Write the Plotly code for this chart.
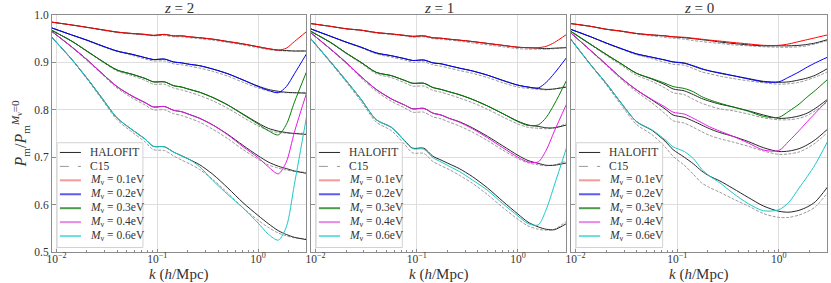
import plotly.graph_objects as go

# ---------------- data ----------------
K = [0.0089, 0.0141, 0.0200, 0.0282, 0.0398, 0.0562, 0.0759, 0.0912, 0.1175, 0.1445, 0.1738,
     0.2089, 0.2630, 0.3548, 0.5012, 0.7079, 1.000, 1.259, 1.585, 1.905, 2.291, 3.020]

REDSHIFT_LABELS = ["2", "1", "0"]
MNU_LABELS = ["0.1", "0.2", "0.3", "0.4", "0.6"]
X_TICK_VALUES = [0.01, 0.1, 1]
X_TICK_TEXT = ["10<sup>−2</sup>", "10<sup>−1</sup>", "10<sup>0</sup>"]
X_MINOR_VALUES = [0.02, 0.03, 0.04, 0.05, 0.06, 0.07, 0.08, 0.09,
                  0.2, 0.3, 0.4, 0.5, 0.6, 0.7, 0.8, 0.9, 2, 3]
Y_TICK_VALUES = [0.5, 0.6, 0.7, 0.8, 0.9, 1.0]
Y_TICK_TEXT = ["0.5", "0.6", "0.7", "0.8", "0.9", "1.0"]

# z = 2
Z2_SIM_01 = [0.985, 0.979, 0.974, 0.969, 0.964, 0.961, 0.959, 0.957, 0.959, 0.956, 0.956, 0.954, 0.952, 0.949, 0.944, 0.939, 0.933, 0.929, 0.926, 0.930, 0.944, 0.965]
Z2_HALO_01 = [0.985, 0.979, 0.974, 0.969, 0.964, 0.961, 0.959, 0.957, 0.959, 0.956, 0.956, 0.954, 0.952, 0.949, 0.944, 0.939, 0.933, 0.929, 0.926, 0.925, 0.924, 0.924]
Z2_C15_01 = [0.985, 0.979, 0.974, 0.968, 0.963, 0.960, 0.958, 0.956, 0.957, 0.954, 0.954, 0.952, 0.950, 0.947, 0.942, 0.937, 0.931, 0.927, 0.925, 0.924, 0.924, 0.925]
Z2_SIM_02 = [0.973, 0.958, 0.947, 0.935, 0.924, 0.917, 0.910, 0.906, 0.907, 0.901, 0.899, 0.896, 0.893, 0.886, 0.876, 0.863, 0.849, 0.841, 0.836, 0.849, 0.876, 0.918]
Z2_HALO_02 = [0.973, 0.958, 0.947, 0.935, 0.924, 0.917, 0.910, 0.906, 0.907, 0.901, 0.899, 0.896, 0.893, 0.886, 0.876, 0.863, 0.850, 0.843, 0.839, 0.837, 0.836, 0.835]
Z2_C15_02 = [0.973, 0.958, 0.946, 0.934, 0.923, 0.915, 0.907, 0.903, 0.903, 0.897, 0.895, 0.892, 0.888, 0.881, 0.871, 0.858, 0.846, 0.840, 0.837, 0.836, 0.836, 0.837]
Z2_SIM_03 = [0.968, 0.945, 0.924, 0.903, 0.884, 0.875, 0.866, 0.859, 0.859, 0.851, 0.848, 0.843, 0.837, 0.826, 0.810, 0.790, 0.770, 0.756, 0.747, 0.769, 0.816, 0.880]
Z2_HALO_03 = [0.968, 0.945, 0.924, 0.903, 0.884, 0.875, 0.866, 0.859, 0.859, 0.851, 0.848, 0.843, 0.837, 0.826, 0.810, 0.791, 0.772, 0.761, 0.755, 0.752, 0.750, 0.748]
Z2_C15_03 = [0.968, 0.945, 0.923, 0.902, 0.882, 0.872, 0.862, 0.854, 0.854, 0.846, 0.842, 0.837, 0.830, 0.819, 0.803, 0.784, 0.766, 0.757, 0.752, 0.751, 0.750, 0.751]
Z2_SIM_04 = [0.966, 0.933, 0.906, 0.877, 0.849, 0.829, 0.815, 0.806, 0.807, 0.799, 0.796, 0.790, 0.782, 0.768, 0.747, 0.722, 0.699, 0.680, 0.665, 0.690, 0.753, 0.835]
Z2_HALO_04 = [0.966, 0.933, 0.906, 0.877, 0.849, 0.829, 0.815, 0.806, 0.807, 0.799, 0.796, 0.790, 0.782, 0.768, 0.748, 0.725, 0.703, 0.690, 0.681, 0.676, 0.671, 0.666]
Z2_C15_04 = [0.966, 0.932, 0.904, 0.875, 0.846, 0.825, 0.810, 0.800, 0.800, 0.792, 0.788, 0.782, 0.774, 0.759, 0.739, 0.716, 0.696, 0.684, 0.677, 0.673, 0.670, 0.668]
Z2_SIM_06 = [0.954, 0.907, 0.867, 0.825, 0.783, 0.758, 0.738, 0.723, 0.722, 0.711, 0.703, 0.695, 0.680, 0.651, 0.621, 0.593, 0.561, 0.538, 0.525, 0.553, 0.643, 0.785]
Z2_HALO_06 = [0.954, 0.907, 0.867, 0.825, 0.783, 0.758, 0.738, 0.723, 0.722, 0.711, 0.703, 0.695, 0.684, 0.664, 0.635, 0.604, 0.577, 0.560, 0.545, 0.537, 0.531, 0.526]
Z2_C15_06 = [0.953, 0.906, 0.865, 0.822, 0.779, 0.753, 0.732, 0.716, 0.714, 0.703, 0.694, 0.686, 0.674, 0.653, 0.624, 0.593, 0.567, 0.552, 0.540, 0.534, 0.530, 0.528]

# z = 1
Z1_SIM_01 = [0.982, 0.976, 0.971, 0.968, 0.963, 0.960, 0.957, 0.955, 0.956, 0.952, 0.951, 0.949, 0.947, 0.944, 0.940, 0.936, 0.932, 0.931, 0.931, 0.934, 0.942, 0.959]
Z1_HALO_01 = [0.982, 0.976, 0.971, 0.968, 0.963, 0.960, 0.957, 0.955, 0.956, 0.952, 0.951, 0.949, 0.947, 0.944, 0.940, 0.936, 0.932, 0.931, 0.930, 0.929, 0.930, 0.931]
Z1_C15_01 = [0.982, 0.976, 0.971, 0.967, 0.962, 0.959, 0.956, 0.953, 0.954, 0.950, 0.949, 0.947, 0.945, 0.941, 0.937, 0.933, 0.929, 0.928, 0.928, 0.928, 0.929, 0.932]
Z1_SIM_02 = [0.971, 0.955, 0.943, 0.932, 0.920, 0.914, 0.908, 0.904, 0.905, 0.899, 0.897, 0.893, 0.888, 0.882, 0.873, 0.862, 0.852, 0.848, 0.846, 0.858, 0.877, 0.910]
Z1_HALO_02 = [0.971, 0.955, 0.943, 0.932, 0.920, 0.914, 0.908, 0.904, 0.905, 0.899, 0.897, 0.893, 0.888, 0.882, 0.873, 0.862, 0.852, 0.848, 0.845, 0.843, 0.844, 0.848]
Z1_C15_02 = [0.971, 0.955, 0.942, 0.931, 0.918, 0.911, 0.905, 0.900, 0.901, 0.895, 0.892, 0.888, 0.883, 0.877, 0.868, 0.857, 0.848, 0.845, 0.843, 0.842, 0.844, 0.850]
Z1_SIM_03 = [0.966, 0.942, 0.920, 0.900, 0.879, 0.872, 0.862, 0.856, 0.856, 0.847, 0.843, 0.838, 0.832, 0.822, 0.808, 0.792, 0.775, 0.767, 0.768, 0.784, 0.812, 0.862]
Z1_HALO_03 = [0.966, 0.942, 0.920, 0.900, 0.879, 0.872, 0.862, 0.856, 0.856, 0.847, 0.843, 0.838, 0.832, 0.822, 0.808, 0.792, 0.776, 0.768, 0.765, 0.762, 0.762, 0.768]
Z1_C15_03 = [0.966, 0.941, 0.919, 0.898, 0.876, 0.868, 0.857, 0.850, 0.850, 0.841, 0.837, 0.832, 0.825, 0.815, 0.801, 0.785, 0.770, 0.763, 0.761, 0.760, 0.762, 0.771]
Z1_SIM_04 = [0.963, 0.928, 0.900, 0.870, 0.843, 0.823, 0.810, 0.802, 0.803, 0.793, 0.789, 0.782, 0.774, 0.760, 0.741, 0.720, 0.700, 0.690, 0.690, 0.715, 0.755, 0.812]
Z1_HALO_04 = [0.963, 0.928, 0.900, 0.870, 0.843, 0.823, 0.810, 0.802, 0.803, 0.793, 0.789, 0.782, 0.775, 0.762, 0.744, 0.724, 0.704, 0.693, 0.687, 0.683, 0.683, 0.688]
Z1_C15_04 = [0.963, 0.927, 0.898, 0.867, 0.839, 0.818, 0.804, 0.795, 0.795, 0.785, 0.781, 0.774, 0.766, 0.753, 0.735, 0.715, 0.697, 0.688, 0.684, 0.682, 0.684, 0.692]
Z1_SIM_06 = [0.951, 0.901, 0.862, 0.822, 0.779, 0.763, 0.734, 0.718, 0.717, 0.699, 0.690, 0.681, 0.670, 0.652, 0.630, 0.602, 0.576, 0.560, 0.557, 0.590, 0.641, 0.720]
Z1_HALO_06 = [0.951, 0.901, 0.862, 0.822, 0.779, 0.763, 0.735, 0.719, 0.719, 0.702, 0.694, 0.686, 0.676, 0.659, 0.635, 0.607, 0.580, 0.563, 0.553, 0.548, 0.547, 0.560]
Z1_C15_06 = [0.950, 0.899, 0.859, 0.818, 0.774, 0.756, 0.727, 0.709, 0.708, 0.691, 0.682, 0.674, 0.662, 0.645, 0.621, 0.594, 0.569, 0.555, 0.548, 0.546, 0.548, 0.565]

# z = 0
Z0_SIM_01 = [0.982, 0.976, 0.970, 0.966, 0.961, 0.958, 0.956, 0.954, 0.953, 0.951, 0.949, 0.947, 0.945, 0.942, 0.939, 0.936, 0.936, 0.939, 0.944, 0.948, 0.952, 0.958]
Z0_HALO_01 = [0.982, 0.976, 0.970, 0.966, 0.961, 0.958, 0.956, 0.954, 0.952, 0.950, 0.948, 0.946, 0.943, 0.940, 0.937, 0.935, 0.935, 0.935, 0.936, 0.938, 0.941, 0.948]
Z0_C15_01 = [0.982, 0.976, 0.970, 0.965, 0.960, 0.956, 0.953, 0.951, 0.949, 0.946, 0.944, 0.942, 0.940, 0.937, 0.935, 0.933, 0.932, 0.932, 0.933, 0.935, 0.939, 0.946]
Z0_SIM_02 = [0.970, 0.954, 0.941, 0.929, 0.918, 0.911, 0.905, 0.901, 0.898, 0.893, 0.887, 0.882, 0.878, 0.872, 0.865, 0.859, 0.859, 0.869, 0.880, 0.890, 0.899, 0.911]
Z0_HALO_02 = [0.970, 0.954, 0.941, 0.929, 0.918, 0.911, 0.905, 0.901, 0.899, 0.892, 0.886, 0.882, 0.877, 0.872, 0.866, 0.860, 0.858, 0.859, 0.863, 0.867, 0.873, 0.887]
Z0_C15_02 = [0.970, 0.954, 0.940, 0.928, 0.916, 0.908, 0.900, 0.896, 0.894, 0.887, 0.880, 0.876, 0.871, 0.866, 0.861, 0.857, 0.854, 0.855, 0.858, 0.863, 0.869, 0.880]
Z0_SIM_03 = [0.966, 0.938, 0.917, 0.897, 0.877, 0.866, 0.856, 0.849, 0.845, 0.838, 0.828, 0.821, 0.814, 0.806, 0.797, 0.786, 0.784, 0.797, 0.812, 0.827, 0.841, 0.864]
Z0_HALO_03 = [0.966, 0.938, 0.917, 0.897, 0.877, 0.865, 0.853, 0.844, 0.840, 0.832, 0.824, 0.818, 0.812, 0.806, 0.798, 0.789, 0.782, 0.783, 0.787, 0.793, 0.803, 0.822]
Z0_C15_03 = [0.966, 0.937, 0.915, 0.894, 0.873, 0.860, 0.846, 0.836, 0.832, 0.822, 0.814, 0.808, 0.802, 0.798, 0.791, 0.783, 0.779, 0.779, 0.782, 0.788, 0.798, 0.817]
Z0_SIM_04 = [0.963, 0.925, 0.896, 0.867, 0.842, 0.822, 0.806, 0.795, 0.791, 0.782, 0.773, 0.764, 0.755, 0.744, 0.730, 0.715, 0.714, 0.734, 0.756, 0.775, 0.793, 0.820]
Z0_HALO_04 = [0.963, 0.925, 0.896, 0.867, 0.842, 0.821, 0.802, 0.789, 0.784, 0.776, 0.768, 0.760, 0.752, 0.744, 0.733, 0.720, 0.712, 0.713, 0.718, 0.726, 0.737, 0.759]
Z0_C15_04 = [0.963, 0.924, 0.894, 0.864, 0.838, 0.815, 0.792, 0.777, 0.772, 0.763, 0.754, 0.746, 0.739, 0.732, 0.723, 0.713, 0.706, 0.707, 0.711, 0.719, 0.730, 0.752]
Z0_SIM_06 = [0.950, 0.895, 0.856, 0.814, 0.775, 0.758, 0.737, 0.722, 0.712, 0.697, 0.675, 0.660, 0.646, 0.624, 0.602, 0.587, 0.589, 0.605, 0.635, 0.659, 0.685, 0.733]
Z0_HALO_06 = [0.950, 0.895, 0.856, 0.814, 0.775, 0.757, 0.734, 0.716, 0.700, 0.686, 0.671, 0.660, 0.650, 0.634, 0.615, 0.597, 0.586, 0.584, 0.588, 0.595, 0.606, 0.637]
Z0_C15_06 = [0.949, 0.894, 0.853, 0.810, 0.769, 0.748, 0.722, 0.702, 0.683, 0.664, 0.646, 0.636, 0.626, 0.612, 0.597, 0.581, 0.573, 0.573, 0.578, 0.585, 0.595, 0.625]

# ---------------- styles ----------------
SIM_COLORS = ["#ff0000", "#0000ff", "#008000", "#e619e6", "#1cc8c8"]
LEGEND_SIM_COLORS = ["#f59a9a", "#5c5cf0", "#4d9a4d", "#e88ae8", "#6adede"]
HALO_COLOR = "#262626"
C15_COLOR = "#9a9a9a"
TEXT_COLOR = "#333333"
FONT = "Liberation Serif, DejaVu Serif, serif"

PANELS = [
    ([Z2_SIM_01, Z2_SIM_02, Z2_SIM_03, Z2_SIM_04, Z2_SIM_06],
     [Z2_HALO_01, Z2_HALO_02, Z2_HALO_03, Z2_HALO_04, Z2_HALO_06],
     [Z2_C15_01, Z2_C15_02, Z2_C15_03, Z2_C15_04, Z2_C15_06]),
    ([Z1_SIM_01, Z1_SIM_02, Z1_SIM_03, Z1_SIM_04, Z1_SIM_06],
     [Z1_HALO_01, Z1_HALO_02, Z1_HALO_03, Z1_HALO_04, Z1_HALO_06],
     [Z1_C15_01, Z1_C15_02, Z1_C15_03, Z1_C15_04, Z1_C15_06]),
    ([Z0_SIM_01, Z0_SIM_02, Z0_SIM_03, Z0_SIM_04, Z0_SIM_06],
     [Z0_HALO_01, Z0_HALO_02, Z0_HALO_03, Z0_HALO_04, Z0_HALO_06],
     [Z0_C15_01, Z0_C15_02, Z0_C15_03, Z0_C15_04, Z0_C15_06]),
]

W, H = 831, 283
ML, MR, MT, MB = 52, 4, 15, 31
PW = W - ML - MR
PH = H - MT - MB
DOMAINS = [(0.0, 254 / PW), ((311 - ML) / PW, (566 - ML) / PW), ((571 - ML) / PW, 1.0)]

fig = go.Figure()
shapes = []
annotations = []

for p, (sims, halos, c15s) in enumerate(PANELS):
    sfx = "" if p == 0 else str(p + 1)
    xa, ya = "x" + sfx, "y" + sfx
    for c15 in c15s:
        fig.add_trace(go.Scatter(x=K, y=c15, mode="lines", xaxis=xa, yaxis=ya, showlegend=False,
                                 line=dict(color=C15_COLOR, width=1, dash="3px,1.5px",
                                           shape="spline", smoothing=0.8),
                                 hoverinfo="skip"))
    for halo in halos:
        fig.add_trace(go.Scatter(x=K, y=halo, mode="lines", xaxis=xa, yaxis=ya, showlegend=False,
                                 line=dict(color=HALO_COLOR, width=1, shape="spline", smoothing=0.8),
                                 hoverinfo="skip"))
    for j, sim in enumerate(sims):
        fig.add_trace(go.Scatter(x=K, y=sim, mode="lines", xaxis=xa, yaxis=ya, showlegend=False,
                                 line=dict(color=SIM_COLORS[j], width=1, shape="spline", smoothing=0.8),
                                 hoverinfo="skip"))

    axis_common = dict(showgrid=True, gridcolor="#dedede", gridwidth=1, showline=True,
                       linecolor="#8c8c8c", linewidth=1, mirror=True, ticks="inside",
                       ticklen=3.5, tickcolor="#8c8c8c", zeroline=False, automargin=False,
                       tickfont=dict(family=FONT, size=11.5, color=TEXT_COLOR))
    fig.layout["xaxis" + sfx] = dict(
        type="log", range=[-2.045, 0.475], domain=list(DOMAINS[p]), anchor=ya,
        tickmode="array", tickvals=X_TICK_VALUES, ticktext=X_TICK_TEXT, ticklabelstandoff=-4,
        minor=dict(tickmode="array", tickvals=X_MINOR_VALUES, ticks="inside", ticklen=2,
                   tickcolor="#8c8c8c", showgrid=False),
        **axis_common)
    fig.layout["yaxis" + sfx] = dict(
        range=[0.5, 1.0], domain=[0, 1], anchor=xa, tickmode="array",
        tickvals=Y_TICK_VALUES, ticktext=Y_TICK_TEXT, showticklabels=(p == 0),
        **axis_common)

    xd, yd = xa + " domain", ya + " domain"
    # panel title
    annotations.append(dict(xref=xd, yref=yd, x=0.5, y=1 + (MT - 8) / PH, yanchor="middle",
                            borderpad=0, text="<i>z</i> = " + REDSHIFT_LABELS[p], showarrow=False,
                            font=dict(family=FONT, size=15, color=TEXT_COLOR)))
    # x axis label
    annotations.append(dict(xref=xd, yref=yd, x=0.5, y=-(274 - (H - MB)) / PH, yanchor="middle",
                            borderpad=0, text="<i>k</i> (<i>h</i>/Mpc)", showarrow=False,
                            font=dict(family=FONT, size=15, color=TEXT_COLOR)))
    # legend frame
    shapes.append(dict(type="rect", xref=xd, yref=yd, x0=0.020, x1=0.358, y0=0.019, y1=0.461,
                       fillcolor="rgba(255,255,255,0.85)", line=dict(color="#d2d2d2", width=1),
                       layer="above"))
    entries = [("HALOFIT", HALO_COLOR, 1, "solid"), ("C15", C15_COLOR, 1, "dash")]
    for j, m in enumerate(MNU_LABELS):
        entries.append(("<i>M</i><sub>ν</sub> = " + m + "eV", LEGEND_SIM_COLORS[j], 2, "solid"))
    for e, (label, col, lw, dash) in enumerate(entries):
        yy = 0.420 - e * 0.0588
        shapes.append(dict(type="line", xref=xd, yref=yd, x0=0.031, x1=0.114, y0=yy, y1=yy,
                           line=dict(color=col, width=lw, dash=dash), layer="above"))
        annotations.append(dict(xref=xd, yref=yd, x=0.146, y=yy, xanchor="left", yanchor="middle",
                                borderpad=0, text=label, showarrow=False,
                                font=dict(family=FONT, size=11.5, color=TEXT_COLOR)))

# y axis label
annotations.append(dict(xref="paper", yref="paper", x=(20 - ML) / PW, y=0.5, textangle=-90,
                        xanchor="center", yanchor="middle", showarrow=False,
                        text="<i>P</i><sub>m</sub>/<i>P</i><sub>m</sub><sup><i>M</i><sub>ν</sub>=0</sup>",
                        font=dict(family=FONT, size=16, color=TEXT_COLOR)))

fig.update_layout(template="none", width=W, height=H, margin=dict(l=ML, r=MR, t=MT, b=MB),
                  paper_bgcolor="white", plot_bgcolor="white", showlegend=False,
                  shapes=shapes, annotations=annotations,
                  font=dict(family=FONT, color=TEXT_COLOR))

fig.write_html("out.html", config={"displayModeBar": False},
               post_script="document.body.style.margin='0px';document.body.style.overflow='hidden';")
